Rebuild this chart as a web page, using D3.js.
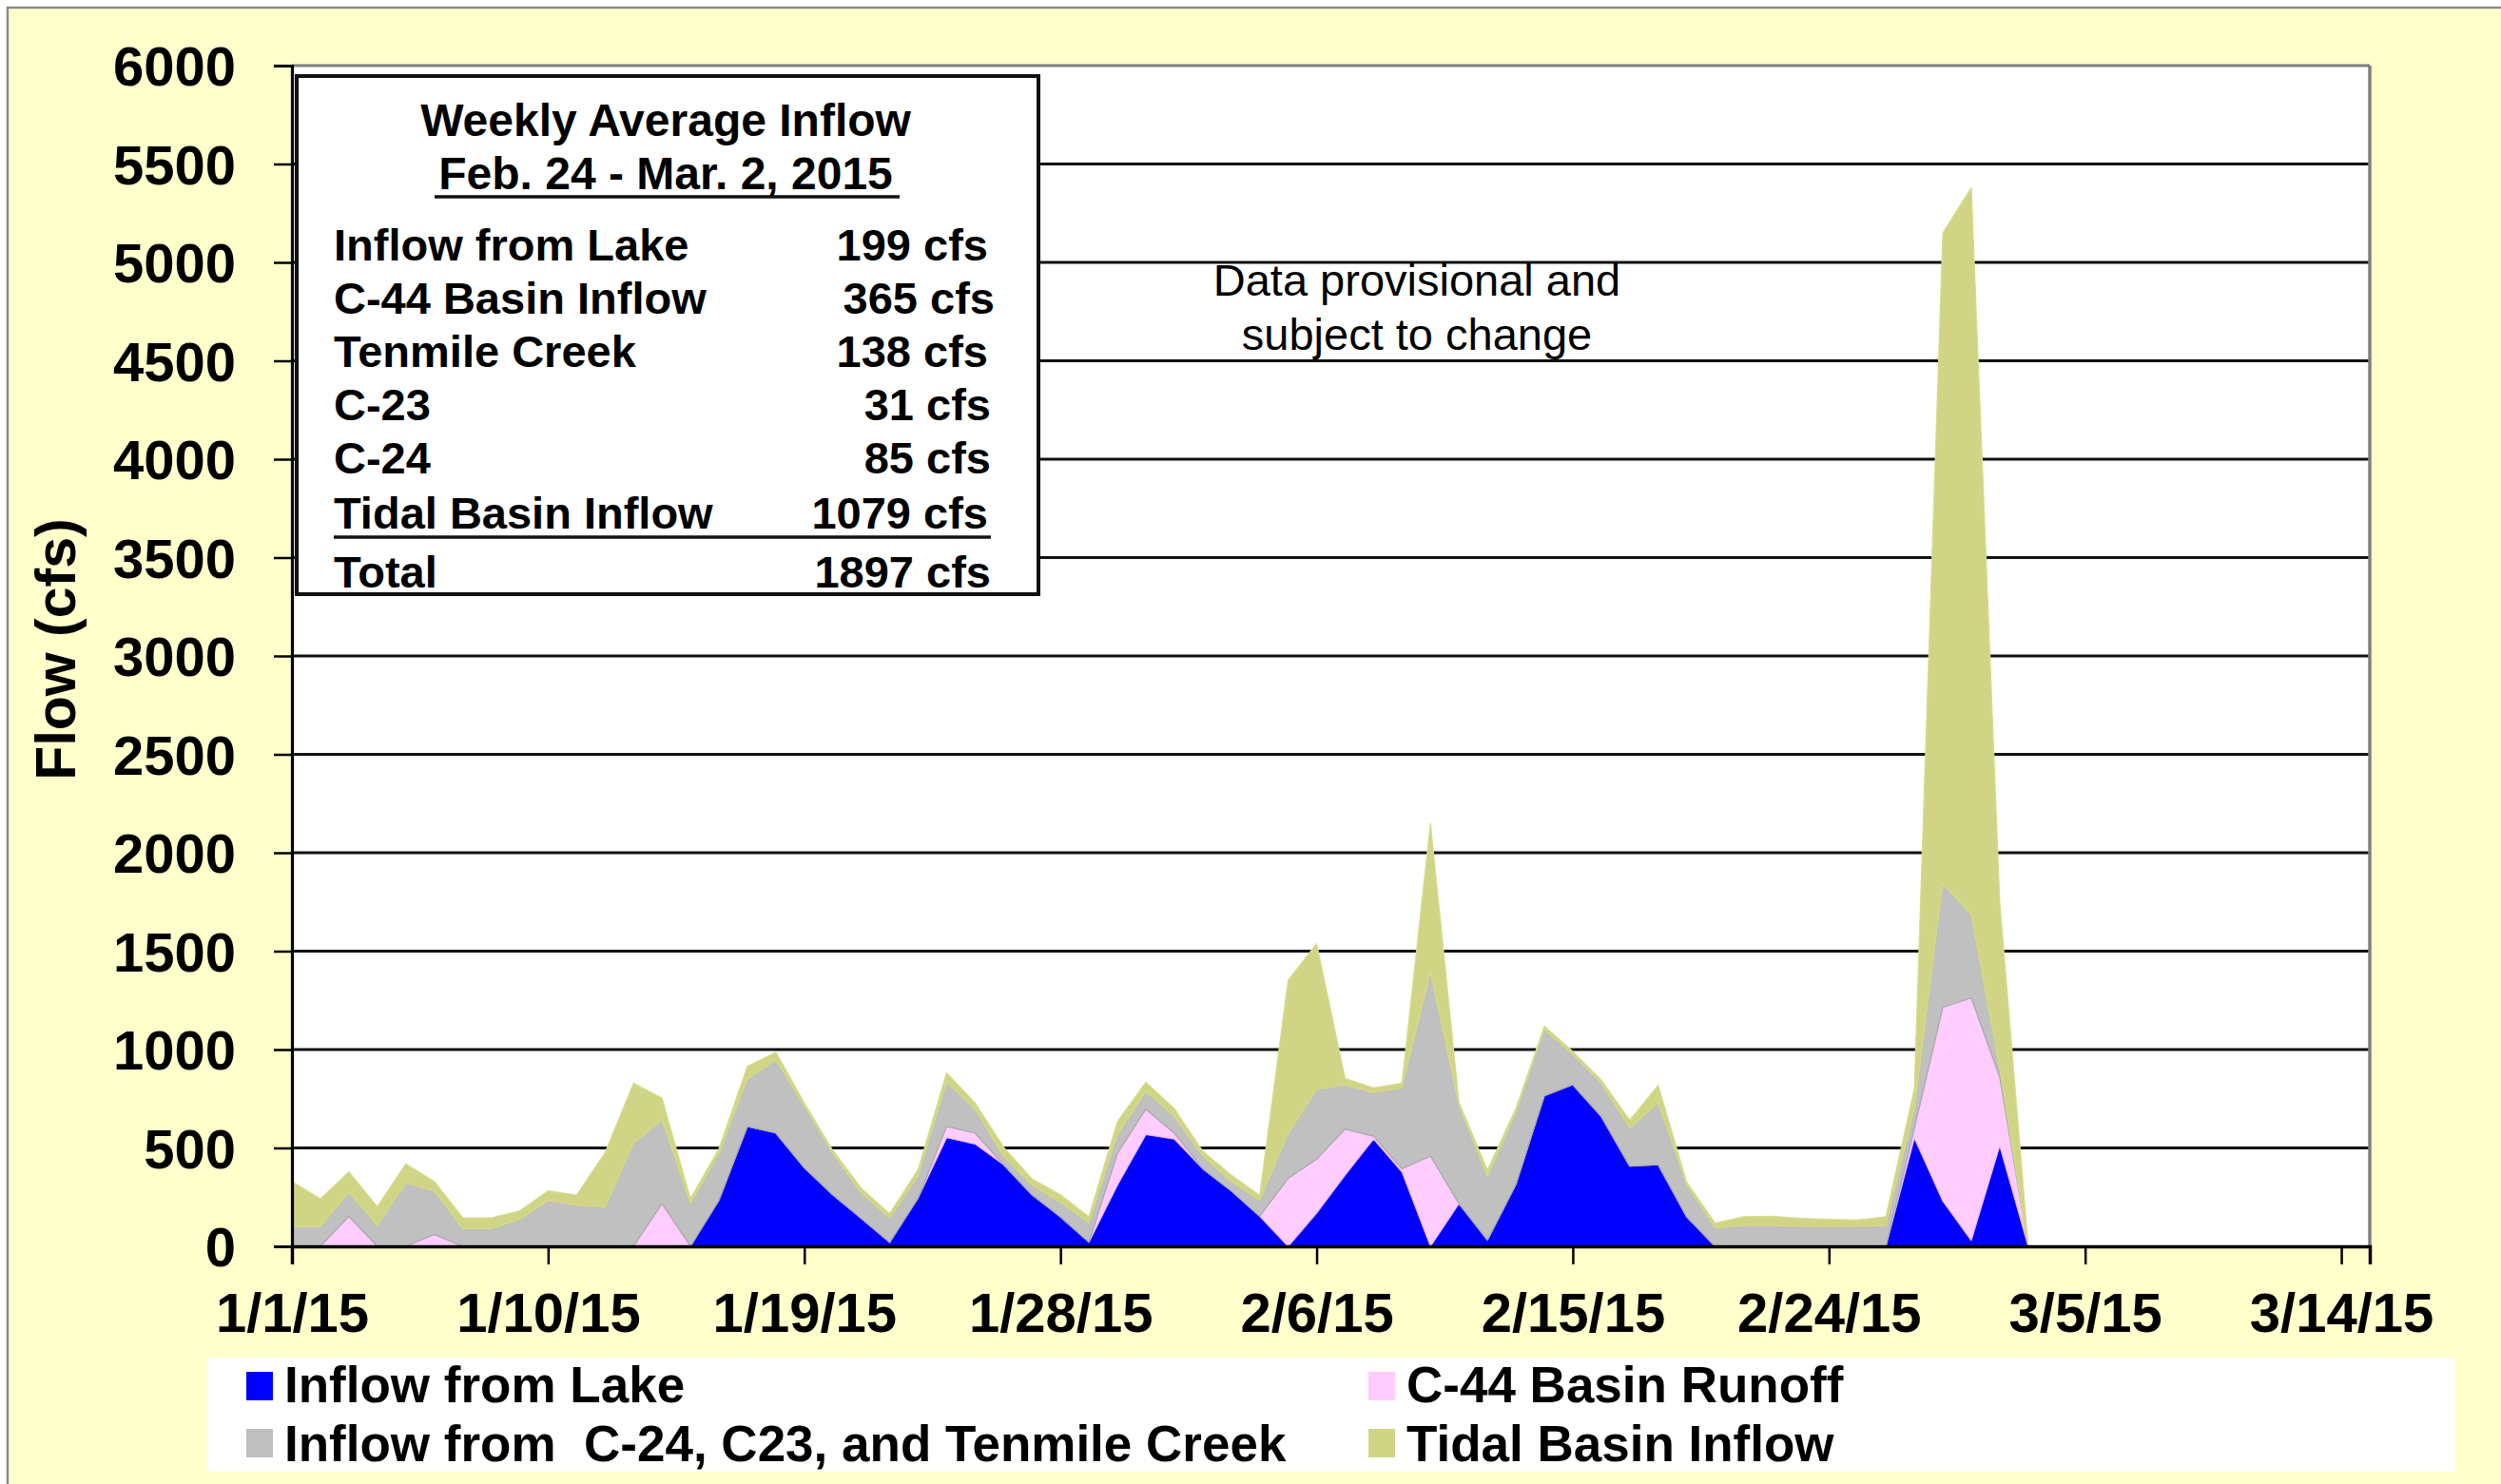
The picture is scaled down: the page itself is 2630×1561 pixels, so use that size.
<!DOCTYPE html>
<html>
<head>
<meta charset="utf-8">
<script src="https://cdn.jsdelivr.net/npm/d3@7"></script>
<style>
  html, body { margin: 0; padding: 0; background: #ffffff; }
  svg { display: block; }
  text { font-family: "Liberation Sans", Arial, Helvetica, sans-serif; }
</style>
</head>
<body>
<svg id="chart" width="2630" height="1561"></svg>
<script>
// ---------------- data ----------------
const startDate = "2015-01-01";
// daily values (cfs), one per day starting 1/1/15
const lakeInflow = [0,0,0,0,0,0,0,0,0,0, 0,0,0,0,0,234,609,576,399,262, 142,20,246,552,520,415,262,150,21,311, 568,545,394,282,153,0,169,362,545,378, 0,217,32,314,765,821,660,407,415,150, 0,0,0,0,0,0,0,550,230,30, 510,0];
const c44Runoff = [0,0,153,0,0,61,0,0,0,0, 0,0,0,217,0,0,0,0,0,0, 0,0,0,57,56,0,0,0,0,161, 129,30,0,0,0,346,274,234,15,16, 459,0,0,0,0,0,0,0,0,0, 0,0,0,0,0,0,0,50,985,1232, 350,0];
const c24Group = [100,100,121,105,322,221,89,89,137,233, 209,201,523,427,217,236,241,371,314,210, 128,122,113,225,121,41,49,72,97,96, 89,85,65,48,80,226,354,225,221,411, 934,499,322,366,338,153,169,193,314,161, 93,105,105,101,101,101,105,100,626,422, 40,0];
const tidalInflow = [230,141,104,96,97,48,56,56,43,49, 52,274,306,109,25,25,64,40,16,16, 25,24,32,48,32,48,32,40,32,65, 48,40,24,32,25,780,741,32,24,24, 756,17,32,20,16,16,16,41,89,16, 25,45,48,41,36,33,45,100,3309,3696, 850,0];

const seriesKeys = ["lake", "c44", "c24", "tidal"];
const seriesNames = ["Inflow from Lake", "C-44 Basin Runoff", "Inflow from  C-24, C23, and Tenmile Creek", "Tidal Basin Inflow"];
const seriesColors = ["#0000ff", "#ffccff", "#c0c0c0", "#d0d586"];

const yTicks = [0,500,1000,1500,2000,2500,3000,3500,4000,4500,5000,5500,6000];
const xTickLabels = ["1/1/15","1/10/15","1/19/15","1/28/15","2/6/15","2/15/15","2/24/15","3/5/15","3/14/15"];

const boxTitle = ["Weekly Average Inflow", "Feb. 24 - Mar. 2, 2015"];
const boxRowLabels = ["Inflow from Lake", "C-44 Basin Inflow", "Tenmile Creek", "C-23", "C-24", "Tidal Basin Inflow", "Total"];
const boxRowValues = ["199 cfs", "365 cfs", "138 cfs", "31 cfs", "85 cfs", "1079 cfs", "1897 cfs"];
const noteLines = ["Data provisional and", "subject to change"];

// ---------------- build ----------------
const parse = d3.timeParse("%Y-%m-%d");
const t0 = parse(startDate);
const rows = lakeInflow.map((v, i) => ({
  date: d3.timeDay.offset(t0, i),
  lake: v, c44: c44Runoff[i], c24: c24Group[i], tidal: tidalInflow[i]
}));

const svg = d3.select("#chart");
const W = 2630, H = 1561;
const plot = {left: 307, right: 2492, top: 69, bottom: 1311};

// background
svg.append("rect").attr("x", 0).attr("y", 0).attr("width", W).attr("height", H).attr("fill", "#ffffff");
svg.append("rect").attr("x", 8).attr("y", 8).attr("width", W + 20).attr("height", H + 20)
  .attr("fill", "#ffffcc").attr("stroke", "#8c8c8c").attr("stroke-width", 2.5);

const x = d3.scaleTime()
  .domain([t0, parse("2015-03-15")])
  .range([plot.left, plot.right]);
const y = d3.scaleLinear().domain([0, 6000]).range([plot.bottom, plot.top]);

// plot area
svg.append("rect").attr("x", plot.left).attr("y", plot.top)
  .attr("width", plot.right - plot.left).attr("height", plot.bottom - plot.top)
  .attr("fill", "#ffffff");

// gridlines
svg.append("g").selectAll("line").data(yTicks.filter(v => v > 0 && v < 6000)).join("line")
  .attr("x1", plot.left).attr("x2", plot.right)
  .attr("y1", d => y(d)).attr("y2", d => y(d))
  .attr("stroke", "#111111").attr("stroke-width", 2.8);

// stacked areas
const stack = d3.stack().keys(seriesKeys);
const layers = stack(rows);
const area = d3.area()
  .x(d => x(d.data.date))
  .y0(d => y(d[0]))
  .y1(d => y(d[1]));
const edgeColors = ["#0000ff", "#e9b8e9", "#a9a9a9", "#d6dc8a"];
svg.append("g").selectAll("path").data(layers).join("path")
  .attr("d", area)
  .attr("fill", (d, i) => seriesColors[i])
  .attr("stroke", (d, i) => edgeColors[i])
  .attr("stroke-width", 1.2)
  .attr("stroke-linejoin", "round");

// plot frame (top & right gray)
svg.append("line").attr("x1", plot.left).attr("x2", plot.right).attr("y1", plot.top).attr("y2", plot.top)
  .attr("stroke", "#808080").attr("stroke-width", 3);
svg.append("line").attr("x1", plot.right).attr("x2", plot.right).attr("y1", plot.top).attr("y2", plot.bottom)
  .attr("stroke", "#808080").attr("stroke-width", 3.5);

// y axis
const yAxis = d3.axisLeft(y).tickValues(yTicks).tickSize(19).tickPadding(40).tickFormat(d3.format("d"));
const gy = svg.append("g").attr("transform", `translate(${plot.left},0)`).call(yAxis);
gy.select(".domain").attr("stroke", "#000").attr("stroke-width", 3.2);
gy.selectAll(".tick line").attr("stroke", "#000").attr("stroke-width", 2.5);
gy.selectAll(".tick text").attr("font-size", 58).attr("font-weight", "bold").attr("fill", "#000")
  .attr("font-family", "'Liberation Sans', Arial, sans-serif").attr("dy", "0.36em");

// x axis
const xTickDates = xTickLabels.map(s => d3.timeParse("%m/%d/%y")(s));
const xAxis = d3.axisBottom(x).tickValues(xTickDates).tickSize(19).tickPadding(30)
  .tickFormat((d, i) => xTickLabels[i]);
const gx = svg.append("g").attr("transform", `translate(0,${plot.bottom})`).call(xAxis);
gx.select(".domain").attr("stroke", "#000").attr("stroke-width", 3.5);
gx.selectAll(".tick line").attr("stroke", "#000").attr("stroke-width", 2.5);
gx.selectAll(".tick text").attr("font-size", 58).attr("font-weight", "bold").attr("fill", "#000")
  .attr("font-family", "'Liberation Sans', Arial, sans-serif").attr("dy", "0.71em");

// y axis title
svg.append("text")
  .attr("transform", "translate(79,683) rotate(-90)")
  .attr("text-anchor", "middle")
  .attr("font-size", 59).attr("font-weight", "bold")
  .text("Flow (cfs)");

// info box
const box = {x: 312, y: 80, w: 780, h: 545};
svg.append("rect").attr("x", box.x).attr("y", box.y).attr("width", box.w).attr("height", box.h)
  .attr("fill", "#ffffff").attr("stroke", "#111").attr("stroke-width", 4);
const boxCx = 700;
svg.append("text").attr("x", boxCx).attr("y", 143).attr("text-anchor", "middle")
  .attr("font-size", 48).attr("font-weight", "bold").text(boxTitle[0]);
svg.append("text").attr("x", boxCx).attr("y", 199).attr("text-anchor", "middle")
  .attr("font-size", 48).attr("font-weight", "bold").text(boxTitle[1]);
svg.append("line").attr("x1", 457).attr("x2", 946).attr("y1", 207).attr("y2", 207)
  .attr("stroke", "#111").attr("stroke-width", 3.5);
const rowBase = [274, 330, 386, 442, 498, 556, 618];
const valueRight = [1039, 1046, 1039, 1042, 1042, 1039, 1042];
boxRowLabels.forEach((lab, i) => {
  svg.append("text").attr("x", 351).attr("y", rowBase[i]).attr("font-size", 47).attr("font-weight", "bold").text(lab);
  svg.append("text").attr("x", valueRight[i]).attr("y", rowBase[i]).attr("text-anchor", "end")
    .attr("font-size", 47).attr("font-weight", "bold").text(boxRowValues[i]);
});
svg.append("line").attr("x1", 351).attr("x2", 1042).attr("y1", 565).attr("y2", 565)
  .attr("stroke", "#111").attr("stroke-width", 3.5);

// note
noteLines.forEach((t, i) => {
  svg.append("text").attr("x", 1490).attr("y", 311 + i * 57).attr("text-anchor", "middle")
    .attr("font-size", 47).text(t);
});

// legend
svg.append("rect").attr("x", 219).attr("y", 1428).attr("width", 2363).attr("height", 120).attr("fill", "#ffffff");
const legPos = [
  {sx: 259, sy: 1443, tx: 299, ty: 1475},
  {sx: 1439, sy: 1443, tx: 1479, ty: 1475},
  {sx: 259, sy: 1503, tx: 299, ty: 1537},
  {sx: 1439, sy: 1503, tx: 1479, ty: 1537}
];
seriesNames.forEach((n, i) => {
  const p = legPos[i];
  svg.append("rect").attr("x", p.sx).attr("y", p.sy).attr("width", 28).attr("height", 30).attr("fill", seriesColors[i]);
  svg.append("text").attr("x", p.tx).attr("y", p.ty).attr("font-size", 53).attr("font-weight", "bold")
    .attr("xml:space", "preserve").style("white-space", "pre").text(n);
});
</script>
</body>
</html>
